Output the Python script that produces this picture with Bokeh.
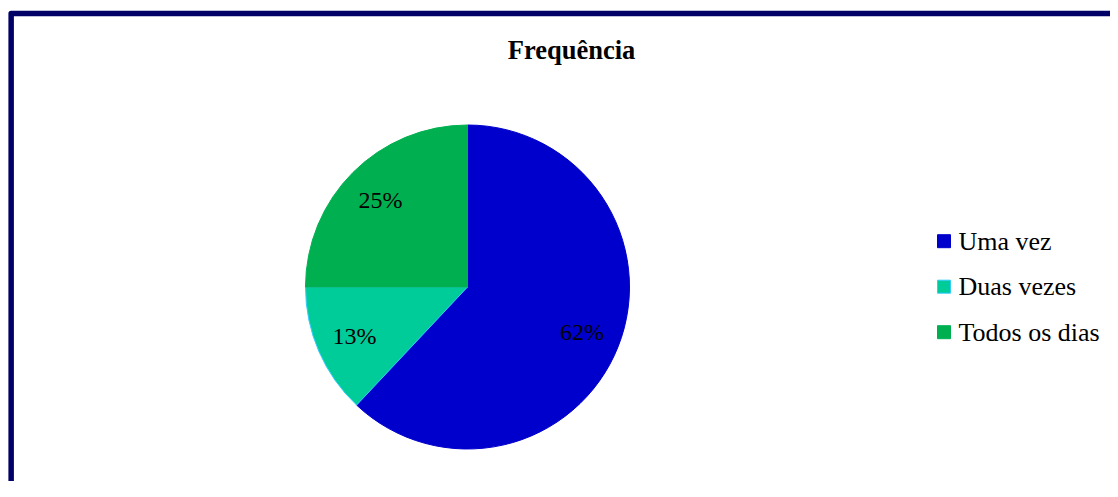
import math
from bokeh.plotting import figure
from bokeh.models import Range1d, ColumnDataSource
from bokeh.core.properties import value
from bokeh.embed import file_html
from bokeh.resources import INLINE

# ---- data ----
categories = ["Uma vez", "Duas vezes", "Todos os dias"]
percents = [62, 13, 25]
labels = ["62%", "13%", "25%"]
colors = ["#0000CC", "#00CC99", "#00B050"]
edge_colors = ["#0000CC", "#33CCFF", "#00B050"]
title_text = "Frequência"

# ---- layout (pixel-like data space, y measured upward) ----
W, H = 1110, 481
cx, cy, R = 467, H - 286.5, 162
FONT = "Liberation Serif"

p = figure(width=W, height=H, output_backend="svg", toolbar_location=None,
           x_range=Range1d(0, W), y_range=Range1d(0, H),
           min_border=0, min_border_left=0, min_border_right=0,
           min_border_top=0, min_border_bottom=0)
p.xaxis.visible = False
p.yaxis.visible = False
p.grid.visible = False
p.outline_line_color = None
p.background_fill_color = "white"
p.border_fill_color = "white"

# pie angles: start at top, go clockwise
total = sum(percents)
starts, ends, mids = [], [], []
a = math.pi / 2
for v in percents:
    span = 2 * math.pi * v / total
    starts.append(a)
    ends.append(a - span)
    mids.append(a - span / 2)
    a -= span

src = ColumnDataSource(dict(
    start=starts, end=ends, color=colors, edge=edge_colors,
    x=[cx] * len(percents), y=[cy] * len(percents)))
p.wedge(x="x", y="y", radius=R, start_angle="start", end_angle="end",
        direction="clock", fill_color="color", line_color="edge",
        line_width=1, source=src)

lr = 0.76 * R
lsrc = ColumnDataSource(dict(
    x=[cx + lr * math.cos(m) for m in mids],
    y=[cy + lr * math.sin(m) for m in mids],
    t=labels))
p.text(x="x", y="y", text="t", source=lsrc, text_align="center",
       text_baseline="middle", text_font=value(FONT),
       text_font_size="24px", text_color="black")

# title
p.text(x=[571], y=[H - 49], text=[title_text], text_align="center",
       text_baseline="middle", text_font=value(FONT),
       text_font_size="26.5px", text_font_style="bold", text_color="black")

# legend
leg_top, leg_gap = H - 240.7, 45.5
leg_y = [leg_top - i * leg_gap for i in range(len(categories))]
p.rect(x=[943.5] * len(categories), y=leg_y, width=13, height=13,
       fill_color=colors, line_color=edge_colors, line_width=1)
p.text(x=[958] * len(categories), y=leg_y, text=categories,
       text_align="left", text_baseline="middle", text_font=value(FONT),
       text_font_size="26px", text_color="black")

# chart border (left and top visible)
p.line(x=[10.65, 10.65, W + 50], y=[-50, H - 13, H - 13], line_color="#000066",
       line_width=5.5, line_join="round")

open("out.html", "w").write(file_html(p, INLINE))
